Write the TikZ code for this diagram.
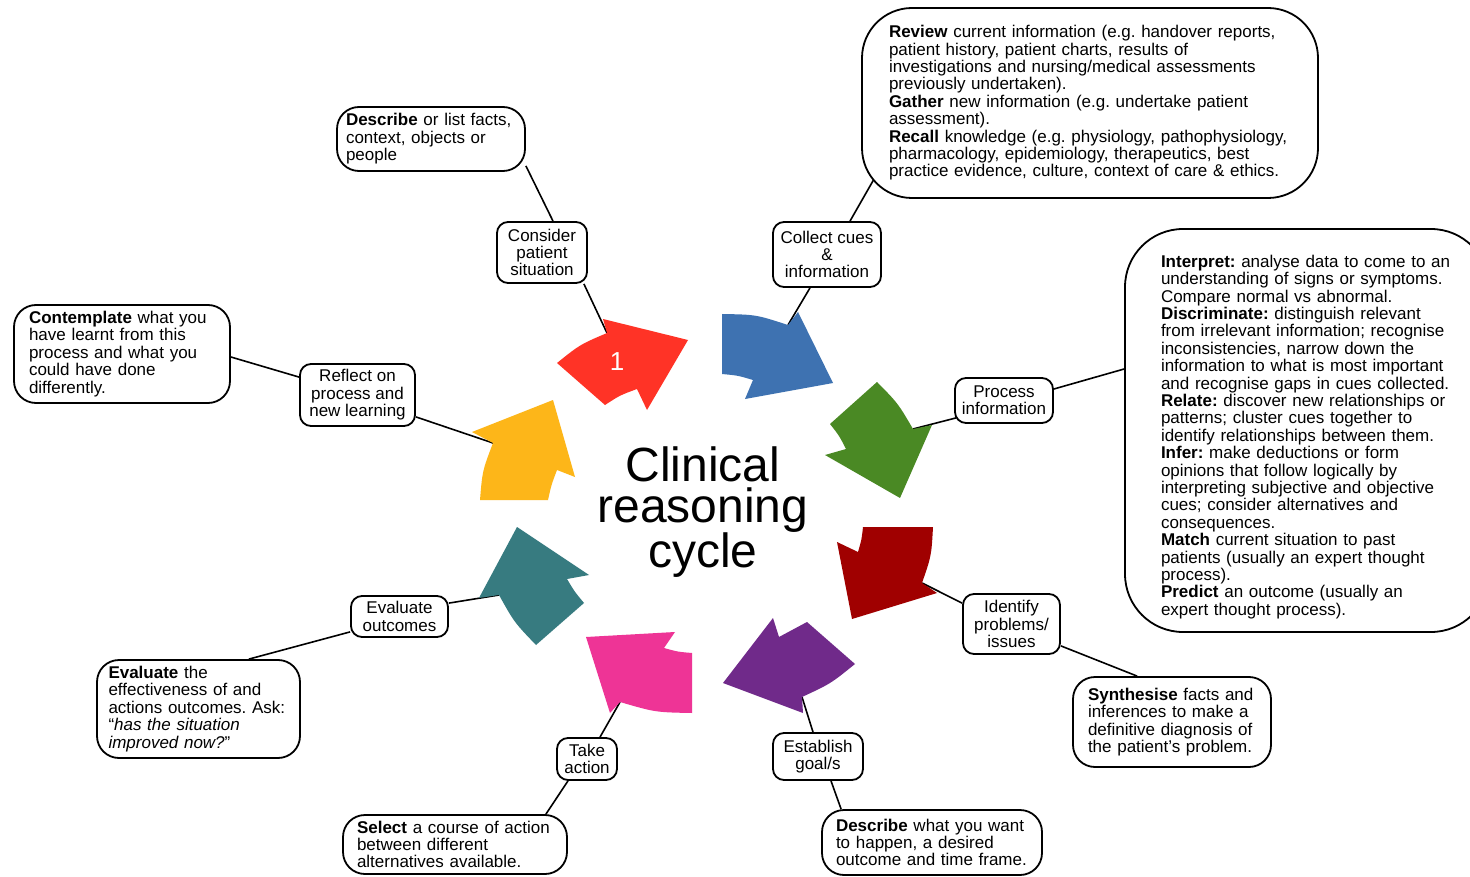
\documentclass[tikz,border=0pt]{standalone}
\usepackage{fontspec}
\setmainfont{Liberation Sans}
\usetikzlibrary{calc,backgrounds}
\frenchspacing

\definecolor{cRed}{RGB}{255,51,38}
\definecolor{cBlue}{RGB}{62,114,177}
\definecolor{cGreen}{RGB}{74,137,36}
\definecolor{cDark}{RGB}{160,0,0}
\definecolor{cPurple}{RGB}{112,42,138}
\definecolor{cPink}{RGB}{238,52,150}
\definecolor{cTeal}{RGB}{55,123,128}
\definecolor{cYellow}{RGB}{253,182,25}

\begin{document}
\begin{tikzpicture}[x=1pt,y=-1pt,
  stepbox/.style={draw, line width=1.8pt, rounded corners=11pt, fill=white,
    align=center, inner sep=0pt, font=\fontsize{17}{17.4}\selectfont},
  notebox/.style={draw, line width=1.8pt, rounded corners=22pt, fill=white,
    align=left, inner ysep=0pt, font=\fontsize{17}{17.4}\selectfont},
  link/.style={line width=1.6pt},
]
\useasboundingbox (0,0) rectangle (1470,877);
\clip (0,0) rectangle (1470,877);

% points where the callout lines meet the cycle arrows
\coordinate (tipR) at (607,333);
\coordinate (tipB) at (788,325);
\coordinate (tipG) at (913,429);
\coordinate (tipD) at (922,583);
\coordinate (tipP) at (802,697);
\coordinate (tipK) at (620,702);
\coordinate (tipT) at (499,595);
\coordinate (tipY) at (493,443);

% the eight curved block arrows of the cycle
\fill[cRed] (605,405) -- (557,363) .. controls (579.9,344.6) .. (tipR) -- (603,319)
  -- (688,340) -- (647,410) -- (637,389) .. controls (620.1,395.2) .. (605,405) -- cycle;
\fill[cBlue] (722,374) -- (722,314) .. controls (756,314.6) .. (tipB) -- (798,312)
  -- (833,383) -- (745,399) -- (753,380) .. controls (737.9,375.5) .. (722,374) -- cycle;
\fill[cGreen] (830,424) -- (877,382) .. controls (898,403.3) .. (tipG) -- (932,425)
  -- (900,498) -- (825,455) -- (846,449) .. controls (839.2,435.7) .. (830,424) -- cycle;
\fill[cDark] (863,527) -- (933,527) .. controls (931.4,555.8) .. (tipD) -- (937,593)
  -- (852,619) -- (837,542) -- (858,552) .. controls (861.6,539.7) .. (863,527) -- cycle;
\fill[cPurple] (807,622) -- (855,664) .. controls (830.6,683.7) .. (tipP) -- (803,713)
  -- (723,683) -- (773,618) -- (779,637) .. controls (793.4,630.3) .. (807,622) -- cycle;
\fill[cPink] (692,653) -- (692,713) .. controls (655.3,712.3) .. (tipK) -- (610,713)
  -- (586,637) -- (675,632) -- (664,648) .. controls (677.7,651.8) .. (692,653) -- cycle;
\fill[cTeal] (584,603) -- (536,645) .. controls (514.3,622.4) .. (tipT) -- (479,598)
  -- (517,527) -- (589,575) -- (567,579) .. controls (574.6,591.7) .. (584,603) -- cycle;
\fill[cYellow] (548,500) -- (480,500) .. controls (482.4,470.8) .. (tipY) -- (472,432)
  -- (553,400) -- (575,477) -- (557,470) .. controls (551.4,484.7) .. (548,500) -- cycle;

\node[text=white, font=\fontsize{26}{26}\selectfont] (one) at (617,362) {1};

\node[font=\fontsize{48}{41}\selectfont, align=center] (title) at (703,512)
  {Clinical\\reasoning\\cycle};

% stages of the cycle
\node[stepbox, minimum width=90pt, minimum height=61pt] (cons) at (542,252.5) {Consider\\patient\\situation};
\node[stepbox, minimum width=108pt, minimum height=65pt] (coll) at (827,254.5) {Collect cues\\\&\\information};
\node[stepbox, minimum width=98pt, minimum height=45pt] (proc) at (1004,400.5) {Process\\information};
\node[stepbox, minimum width=97pt, minimum height=60pt] (iden) at (1011.5,624) {Identify\\problems/\\issues};
\node[stepbox, minimum width=90pt, minimum height=47pt] (estb) at (818,756.5) {Establish\\goal/s};
\node[stepbox, minimum width=60pt, minimum height=42pt] (take) at (587,759) {Take\\action};
\node[stepbox, minimum width=97pt, minimum height=41pt] (eval) at (399.5,616.5) {Evaluate\\outcomes};
\node[stepbox, minimum width=115pt, minimum height=62pt] (refl) at (357.5,395) {Reflect on\\process and\\new learning};

% explanations of each stage
\node[notebox, text width=170pt, inner xsep=9pt, minimum height=64pt] (d1) at (431,139)
  {\textbf{Describe} or list facts,\\context, objects or\\people};
\node[notebox, rounded corners=50pt, text width=402pt, inner xsep=27pt, minimum height=190pt] (d2) at (1090,103)
  {\textbf{Review} current information (e.g. handover reports,\\
   patient history, patient charts, results of\\
   investigations and nursing/medical assessments\\
   previously undertaken).\\
   \textbf{Gather} new information (e.g. undertake patient\\
   assessment).\\
   \textbf{Recall} knowledge (e.g. physiology, pathophysiology,\\
   pharmacology, epidemiology, therapeutics, best\\
   practice evidence, culture, context of care \& ethics.};
\node[notebox, rounded corners=58pt, text width=292pt, inner xsep=36pt, minimum height=403pt] (d3) at (1307,430.5)
  {\rule{0pt}{25pt}\textbf{Interpret:} analyse data to come to an\\
   understanding of signs or symptoms.\\
   Compare normal vs abnormal.\\
   \textbf{Discriminate:} distinguish relevant\\
   from irrelevant information; recognise\\
   inconsistencies, narrow down the\\
   information to what is most important\\
   and recognise gaps in cues collected.\\
   \textbf{Relate:} discover new relationships or\\
   patterns; cluster cues together to\\
   identify relationships between them.\\
   \textbf{Infer:} make deductions or form\\
   opinions that follow logically by\\
   interpreting subjective and objective\\
   cues; consider alternatives and\\
   consequences.\\
   \textbf{Match} current situation to past\\
   patients (usually an expert thought\\
   process).\\
   \textbf{Predict} an outcome (usually an\\
   expert thought process).};
\node[notebox, text width=168pt, inner xsep=15pt, minimum height=90pt] (d4) at (1172,722)
  {\textbf{Synthesise} facts and\\inferences to make a\\definitive diagnosis of\\the patient’s problem.};
\node[notebox, text width=192pt, inner xsep=14pt, minimum height=65pt] (d5) at (932,842.5)
  {\textbf{Describe} what you want\\to happen, a desired\\outcome and time frame.};
\node[notebox, text width=196pt, inner xsep=14pt, minimum height=59pt] (d6) at (455,844.5)
  {\textbf{Select} a course of action\\between different\\alternatives available.};
\node[notebox, text width=180pt, inner xsep=11.5pt, minimum height=98pt] (d7) at (198.5,709)
  {\textbf{Evaluate} the\\effectiveness of and\\actions outcomes. Ask:\\“\textit{has the situation}\\\textit{improved now?}”};
\node[notebox, text width=186pt, inner xsep=15pt, minimum height=98pt] (d8) at (122,354)
  {\textbf{Contemplate} what you\\have learnt from this\\process and what you\\could have done\\differently.};

% callout lines, kept behind the boxes and arrows
\begin{scope}[on background layer]
  \fill[white] (0,0) rectangle (1470,877);
  \draw[link] ($(d1.south east)+(0,-6)$) -- ($(cons.north)+(11,0)$);
  \draw[link] ($(cons.south east)+(-4,0)$) -- (tipR);
  \draw[link] ($(coll.north)+(23,0)$) -- ($(d2.south west)+(13,-20)$);
  \draw[link] ($(coll.south)+(-17,0)$) -- (tipB);
  \draw[link] ($(proc.south west)+(2,-6)$) -- (tipG);
  \draw[link] ($(proc.east)+(0,-11.5)$) -- ($(d3.west)+(0,-61.5)$);
  \draw[link] ($(iden.north west)+(0,10)$) -- (tipD);
  \draw[link] ($(iden.south east)+(0,-9)$) -- ($(d4.north west)+(65,0)$);
  \draw[link] ($(estb.north)+(-5,0)$) -- (tipP);
  \draw[link] ($(estb.south)+(13,0)$) -- ($(d5.north west)+(20,0)$);
  \draw[link] ($(take.north)+(13,0)$) -- (tipK);
  \draw[link] ($(take.south)+(-19,0)$) -- ($(d6.north east)+(-22,0)$);
  \draw[link] ($(eval.north east)+(0,8)$) -- (tipT);
  \draw[link] ($(eval.south west)+(0,-6)$) -- ($(d7.north east)+(-52,0)$);
  \draw[link] ($(refl.south east)+(0,-10)$) -- (tipY);
  \draw[link] ($(refl.north west)+(0,14)$) -- ($(d8.east)+(0,3)$);
\end{scope}
\end{tikzpicture}
\end{document}
